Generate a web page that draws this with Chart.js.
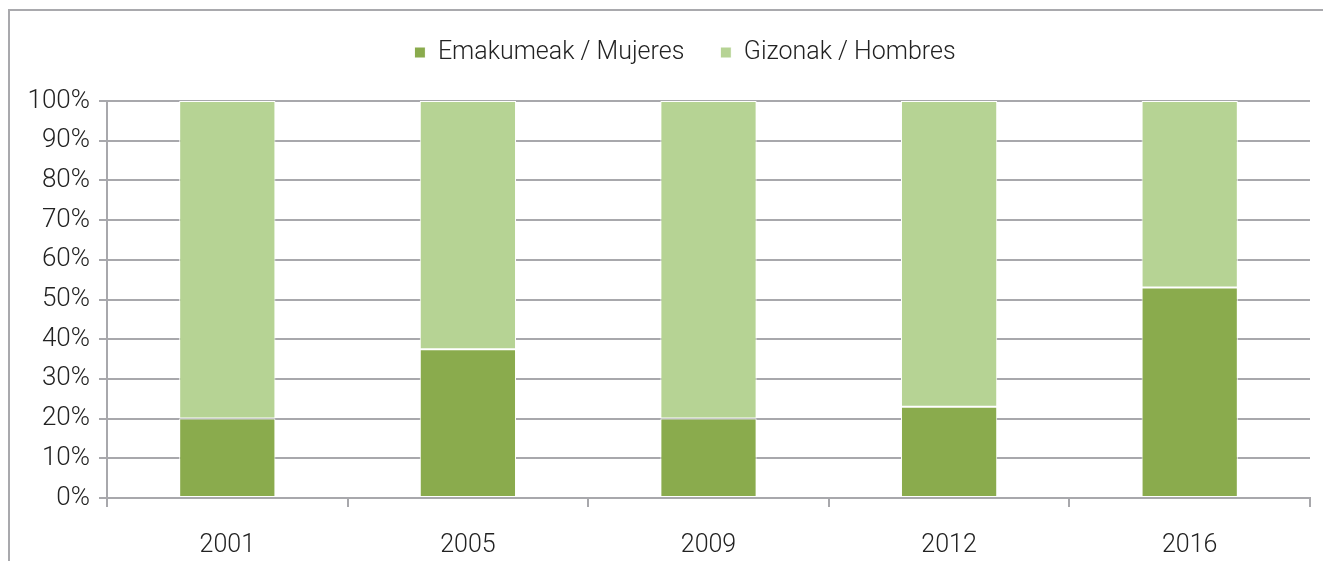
<!DOCTYPE html>
<html>
<head>
<meta charset="utf-8">
<script src="https://cdn.jsdelivr.net/npm/chart.js@4"></script>
<style>
  html, body { margin: 0; padding: 0; background: #fff; overflow: hidden; }
  #marco { position: absolute; left: 8px; top: 9px; width: 1340px; height: 600px; border: 2px solid #a9a9ad; box-sizing: border-box; }
  #lienzo { position: absolute; left: 0; top: 0; width: 1323px; height: 561px; }
</style>
</head>
<body>
<div id="marco"></div>
<div id="lienzo"><canvas id="grafica"></canvas></div>
<script>
// Datos del gráfico
const anios = ["2001", "2005", "2009", "2012", "2016"];
const mujeres = [20, 37.5, 20, 23, 53];
const hombres = [80, 62.5, 80, 77, 47];
const etiquetasY = ["0%", "10%", "20%", "30%", "40%", "50%", "60%", "70%", "80%", "90%", "100%"];

const colorMujeres = "#8aab4d";
const colorHombres = "#b6d394";
const colorRejilla = "#a8a8ac";
const fuente = "Roboto, 'Liberation Sans', sans-serif";

// Leyenda: altura fija y centrada un poco más a la derecha
const ajusteLeyenda = {
  id: "ajusteLeyenda",
  beforeInit(chart) {
    const fitOriginal = chart.legend.fit;
    chart.legend.fit = function () {
      fitOriginal.bind(chart.legend)();
      this.height = 97;
    };
  },
  afterLayout(chart) {
    chart.legend.left += 60;
  }
};

const ctx = document.getElementById("grafica").getContext("2d");
new Chart(ctx, {
  type: "bar",
  data: {
    labels: anios,
    datasets: [
      {
        label: "Emakumeak / Mujeres",
        data: mujeres,
        backgroundColor: colorMujeres,
        borderColor: "#ffffff",
        borderWidth: 1,
        borderSkipped: false
      },
      {
        label: "Gizonak / Hombres",
        data: hombres,
        backgroundColor: colorHombres,
        borderColor: "#ffffff",
        borderWidth: 1,
        borderSkipped: false
      }
    ]
  },
  options: {
    responsive: true,
    maintainAspectRatio: false,
    animation: false,
    datasets: { bar: { categoryPercentage: 1, barPercentage: 0.4 } },
    layout: { padding: { top: 4, right: 13, bottom: 0, left: 0 } },
    plugins: {
      tooltip: { enabled: false },
      legend: {
        position: "top",
        labels: {
          color: "#222",
          font: { family: fuente, size: 25, weight: 300 },
          boxWidth: 11,
          boxHeight: 11,
          padding: 36
        }
      }
    },
    scales: {
      x: {
        stacked: true,
        offset: true,
        afterFit: s => { s.height = 63; },
        grid: {
          offset: true,
          drawOnChartArea: false,
          color: colorRejilla,
          lineWidth: 2,
          tickLength: 9
        },
        border: { color: colorRejilla, width: 2 },
        ticks: { color: "#222", font: { family: fuente, size: 25, weight: 300 }, padding: 24 }
      },
      y: {
        stacked: true,
        min: 0,
        max: 100,
        afterFit: s => { s.width = 107; },
        afterBuildTicks: s => { s.ticks = etiquetasY.map((t, i) => ({ value: i * 10 })); },
        grid: { color: colorRejilla, lineWidth: 2, tickLength: 8 },
        border: { color: colorRejilla, width: 2 },
        ticks: {
          color: "#222",
          font: { family: fuente, size: 26, weight: 300 },
          padding: 9,
          callback: (v, i) => etiquetasY[i]
        }
      }
    }
  },
  plugins: [ajusteLeyenda]
});
</script>
</body>
</html>
